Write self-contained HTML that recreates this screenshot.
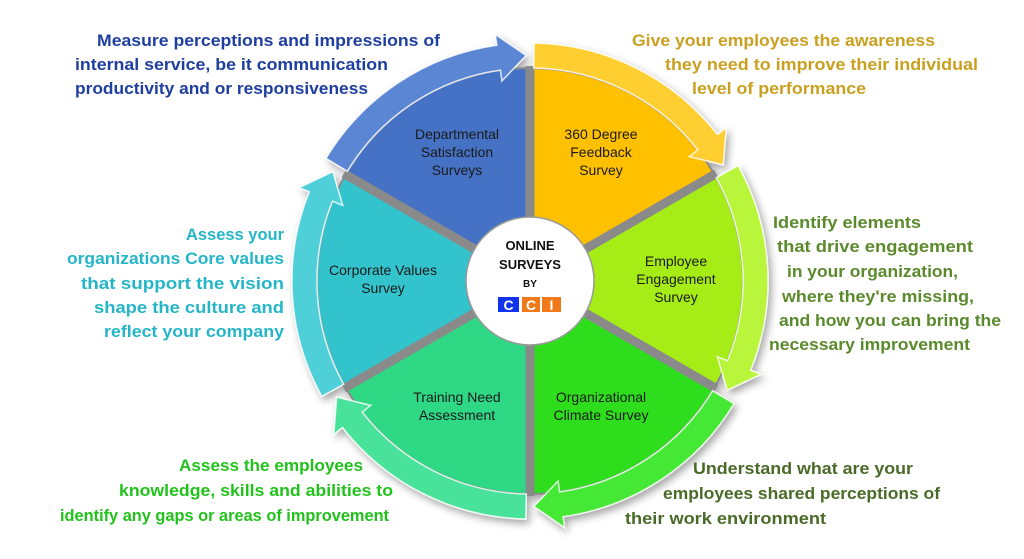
<!DOCTYPE html>
<html><head><meta charset="utf-8"><style>
html,body{margin:0;padding:0;background:#fff;width:1024px;height:559px;overflow:hidden}
svg{display:block}
text{font-family:"Liberation Sans",sans-serif}
.b{font-weight:bold;font-size:17px}
.l{font-size:14px;fill:#1a1a1a}
</style></head><body>
<svg id="s" width="1024" height="559" viewBox="0 0 1024 559">
<defs>
<filter id="sh" x="-10%" y="-10%" width="120%" height="120%"><feDropShadow dx="3" dy="4" stdDeviation="4" flood-color="#000" flood-opacity="0.35"/></filter>
</defs>
<g id="wheel" filter="url(#sh)"></g>
<circle cx="530" cy="281" r="64" fill="#fff" stroke="#999" stroke-width="1.5"/>
<text x="530" y="250" text-anchor="middle" font-weight="bold" font-size="13" fill="#111">ONLINE</text>
<text x="530" y="269" text-anchor="middle" font-weight="bold" font-size="13" fill="#111">SURVEYS</text>
<text x="530" y="287" text-anchor="middle" font-weight="bold" font-size="10" fill="#111">BY</text>
<rect x="498" y="297" width="21" height="15" fill="#1133ee"/>
<rect x="522" y="297" width="18" height="15" fill="#f07a1a"/>
<rect x="542" y="297" width="19" height="15" fill="#f07a1a"/>
<text x="508.5" y="310" text-anchor="middle" font-weight="bold" font-size="14" fill="#fff">C</text>
<text x="531" y="310" text-anchor="middle" font-weight="bold" font-size="14" fill="#fff">C</text>
<text x="551.5" y="310" text-anchor="middle" font-weight="bold" font-size="14" fill="#fff">I</text>

<text class="l" x="457" y="139" text-anchor="middle">Departmental</text>
<text class="l" x="457" y="157" text-anchor="middle">Satisfaction</text>
<text class="l" x="457" y="175" text-anchor="middle">Surveys</text>
<text class="l" x="601" y="139" text-anchor="middle">360 Degree</text>
<text class="l" x="601" y="157" text-anchor="middle">Feedback</text>
<text class="l" x="601" y="175" text-anchor="middle">Survey</text>
<text class="l" x="676" y="266" text-anchor="middle">Employee</text>
<text class="l" x="676" y="284" text-anchor="middle">Engagement</text>
<text class="l" x="676" y="302" text-anchor="middle">Survey</text>
<text class="l" x="383" y="275" text-anchor="middle">Corporate Values</text>
<text class="l" x="383" y="293" text-anchor="middle">Survey</text>
<text class="l" x="457" y="402" text-anchor="middle">Training Need</text>
<text class="l" x="457" y="420" text-anchor="middle">Assessment</text>
<text class="l" x="601" y="402" text-anchor="middle">Organizational</text>
<text class="l" x="601" y="420" text-anchor="middle">Climate Survey</text>

<g class="b" fill="#1f3fa0">
<text x="97" y="46" textLength="343" lengthAdjust="spacingAndGlyphs">Measure perceptions and impressions of</text>
<text x="75" y="70" textLength="313" lengthAdjust="spacingAndGlyphs">internal service, be it communication</text>
<text x="75" y="94" textLength="293" lengthAdjust="spacingAndGlyphs">productivity and or responsiveness</text>
</g>
<g class="b" fill="#caa020">
<text x="632" y="46" textLength="303" lengthAdjust="spacingAndGlyphs">Give your employees the awareness</text>
<text x="665" y="70" textLength="313" lengthAdjust="spacingAndGlyphs">they need to improve their individual</text>
<text x="692" y="94" textLength="174" lengthAdjust="spacingAndGlyphs">level of performance</text>
</g>
<g class="b" fill="#5b8a2c">
<text x="773" y="228" textLength="148" lengthAdjust="spacingAndGlyphs">Identify elements</text>
<text x="777" y="252" textLength="196" lengthAdjust="spacingAndGlyphs">that drive engagement</text>
<text x="787" y="277" textLength="171" lengthAdjust="spacingAndGlyphs">in your organization,</text>
<text x="782" y="302" textLength="192" lengthAdjust="spacingAndGlyphs">where they're missing,</text>
<text x="779" y="326" textLength="222" lengthAdjust="spacingAndGlyphs">and how you can bring the</text>
<text x="769" y="350" textLength="201" lengthAdjust="spacingAndGlyphs">necessary improvement</text>
</g>
<g class="b" fill="#24b6c8">
<text x="186" y="240" textLength="98" lengthAdjust="spacingAndGlyphs">Assess your</text>
<text x="67" y="264" textLength="217" lengthAdjust="spacingAndGlyphs">organizations Core values</text>
<text x="81" y="289" textLength="203" lengthAdjust="spacingAndGlyphs">that support the vision</text>
<text x="94" y="313" textLength="190" lengthAdjust="spacingAndGlyphs">shape the culture and</text>
<text x="104" y="337" textLength="180" lengthAdjust="spacingAndGlyphs">reflect your company</text>
</g>
<g class="b" fill="#22c21c">
<text x="179" y="471" textLength="184" lengthAdjust="spacingAndGlyphs">Assess the employees</text>
<text x="119" y="496" textLength="274" lengthAdjust="spacingAndGlyphs">knowledge, skills and abilities to</text>
<text x="60" y="521" textLength="329" lengthAdjust="spacingAndGlyphs">identify any gaps or areas of improvement</text>
</g>
<g class="b" fill="#4a6a28">
<text x="693" y="474" textLength="220" lengthAdjust="spacingAndGlyphs">Understand what are your</text>
<text x="663" y="499" textLength="277" lengthAdjust="spacingAndGlyphs">employees shared perceptions of</text>
<text x="625" y="524" textLength="201" lengthAdjust="spacingAndGlyphs">their work environment</text>
</g>
</svg>
<script>
(function(){
var cx=530,cy=281,R=212,NS="http://www.w3.org/2000/svg",g=document.getElementById("wheel");
function P(r,a){a=a*Math.PI/180;return (cx+r*Math.sin(a)).toFixed(1)+","+(cy-r*Math.cos(a)).toFixed(1);}
function el(t,at){var e=document.createElementNS(NS,t);for(var k in at)e.setAttribute(k,at[k]);g.appendChild(e);return e;}
var segs=[[0,"#ffc000","#ffcf33"],[60,"#a6ec14","#b8f53a"],[120,"#2ede1c","#45e835"],[180,"#2ed884","#48e29a"],[240,"#33c3cc","#4fd0d8"],[300,"#4472c4","#5a86d4"]];
el("circle",{cx:cx,cy:cy,r:R+2,fill:"#8a8a8a"});
segs.forEach(function(s){
 var a=s[0],b=a+60;
 el("path",{d:"M"+cx+","+cy+" L"+P(R,a)+" A"+R+","+R+" 0 0 1 "+P(R,b)+" Z",fill:s[1]});
});
for(var i=0;i<6;i++){el("line",{x1:cx,y1:cy,x2:P(R+3,i*60).split(",")[0],y2:P(R+3,i*60).split(",")[1],stroke:"#8a8a8a","stroke-width":9});}
segs.forEach(function(s){
 var a0=s[0]+1,a1=s[0]+59,h=a1-7,r1=213,r2=238;
 var d="M"+P(r2,a0)+" A"+r2+","+r2+" 0 0 1 "+P(r2,h)+" L"+P(249,h)+" L"+P(225.5,a1)+" L"+P(202,h)+" L"+P(r1,h)+" A"+r1+","+r1+" 0 0 0 "+P(r1,a0)+" Z";
 el("path",{d:d,fill:s[2],stroke:"#ffffff","stroke-width":1.5,"stroke-opacity":0.8});
});
})();
</script>
</body></html>
